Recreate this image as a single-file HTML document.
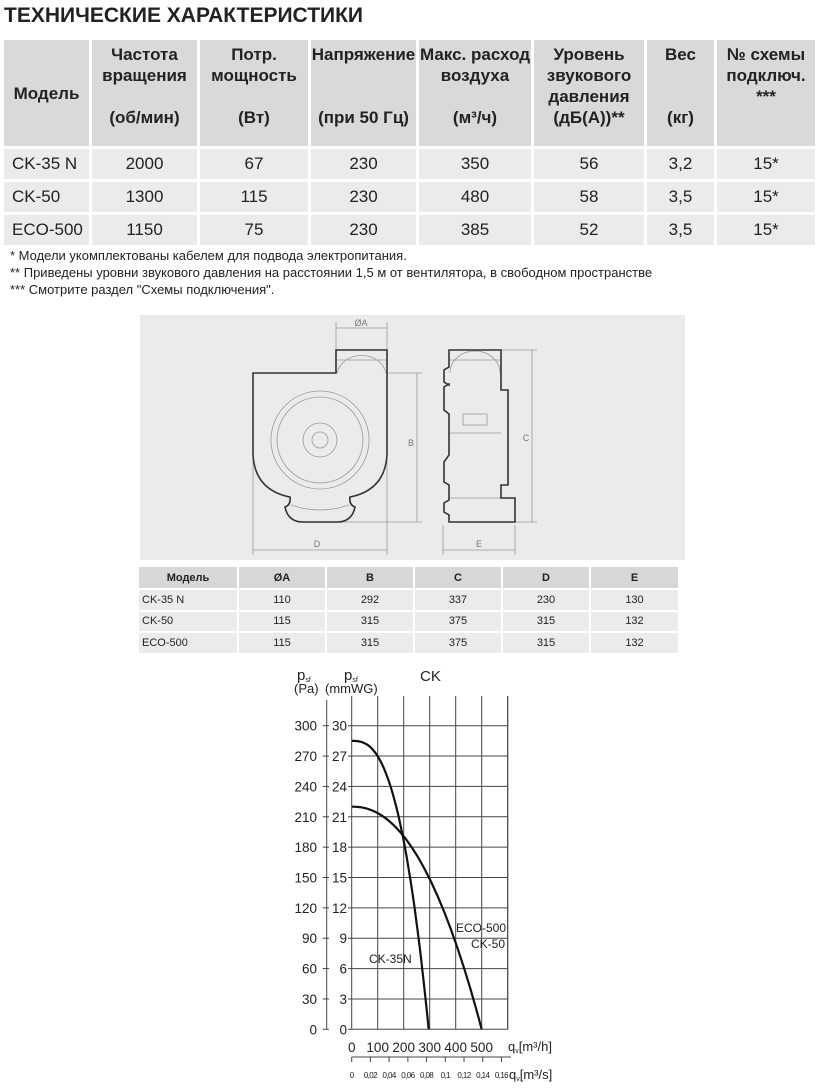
<!DOCTYPE html>
<html><head><meta charset="utf-8"><style>
body{margin:0;background:#fff;width:820px;height:1091px;position:relative;overflow:hidden;font-family:"Liberation Sans",sans-serif;color:#222}
.a{position:absolute}
table{border-collapse:separate;border-spacing:3px;position:absolute}
td{padding:0;text-align:center}
#t1{left:1px;top:37px;font-size:17px}
#t1 .h td{background:#d9d9d9;font-weight:bold;height:102px;vertical-align:top;line-height:21px}
#t1 .r td{background:#ebebeb;height:30px}
#t2{left:137px;top:565px;font-size:11px;border-spacing:2px}
#t2 .h td{background:#d7d7d7;font-weight:bold;height:21px}
#t2 .r td{background:#ebebeb;height:19.5px}
.note{font-size:13px;left:10px}
</style></head><body>
<div class="a" style="left:4px;top:4px;font-size:21px;font-weight:bold;color:#222">ТЕХНИЧЕСКИЕ ХАРАКТЕРИСТИКИ</div>
<table id="t1">
<tr class="h">
<td style="width:85px;vertical-align:middle">Модель</td>
<td style="width:105px;padding-top:4px">Частота<br>вращения<br><br>(об/мин)</td>
<td style="width:108px;padding-top:4px">Потр.<br>мощность<br><br>(Вт)</td>
<td style="width:105px;padding-top:4px">Напряжение<br><br><br>(при 50 Гц)</td>
<td style="width:112px;padding-top:4px">Макс. расход<br>воздуха<br><br>(м³/ч)</td>
<td style="width:110px;padding-top:4px">Уровень<br>звукового<br>давления<br>(дБ(А))**</td>
<td style="width:67px;padding-top:4px">Вес<br><br><br>(кг)</td>
<td style="width:98px;padding-top:4px">№ схемы<br>подключ.<br>***</td>
</tr>
<tr class="r"><td style="text-align:left;padding-left:8px">CK-35 N</td><td>2000</td><td>67</td><td>230</td><td>350</td><td>56</td><td>3,2</td><td>15*</td></tr>
<tr class="r"><td style="text-align:left;padding-left:8px">CK-50</td><td>1300</td><td>115</td><td>230</td><td>480</td><td>58</td><td>3,5</td><td>15*</td></tr>
<tr class="r"><td style="text-align:left;padding-left:8px">ECO-500</td><td>1150</td><td>75</td><td>230</td><td>385</td><td>52</td><td>3,5</td><td>15*</td></tr>
</table>
<div class="a note" style="top:248px">* Модели укомплектованы кабелем для подвода электропитания.</div>
<div class="a note" style="top:265px">** Приведены уровни звукового давления на расстоянии 1,5 м от вентилятора, в свободном пространстве</div>
<div class="a note" style="top:282px">*** Смотрите раздел "Схемы подключения".</div>

<div class="a" style="left:140px;top:315px;width:545px;height:245px;background:#ebebeb"></div>
<svg class="a" style="left:0;top:0" width="820" height="600">
<g fill="none" stroke="#999" stroke-width="0.8">
<line x1="336" y1="322" x2="336" y2="350"/><line x1="387" y1="322" x2="387" y2="555"/>
<line x1="336" y1="328" x2="387" y2="328"/>
<line x1="253" y1="455" x2="253" y2="555"/><line x1="253" y1="550" x2="387" y2="550"/>
<line x1="387" y1="373" x2="422" y2="373"/><line x1="340" y1="522" x2="422" y2="522"/>
<line x1="417" y1="373" x2="417" y2="522"/>
<line x1="501" y1="350" x2="537" y2="350"/><line x1="515" y1="522" x2="537" y2="522"/>
<line x1="532" y1="350" x2="532" y2="522"/>
<line x1="443" y1="525" x2="443" y2="555"/><line x1="515" y1="525" x2="515" y2="555"/>
<line x1="443" y1="550" x2="515" y2="550"/>
<circle cx="320" cy="440" r="49"/><circle cx="320" cy="440" r="43"/><circle cx="320" cy="440" r="17"/><circle cx="320" cy="440" r="8"/>
<path d="M337 373 A25 22 0 0 1 386 373"/><line x1="337" y1="360" x2="386" y2="360"/>
<path d="M450 373 A25 22 0 0 1 500 373"/><line x1="450" y1="360" x2="500" y2="360"/>
<line x1="450" y1="433" x2="501" y2="433"/><line x1="450" y1="498" x2="501" y2="498"/>
<rect x="463" y="414" width="24" height="11"/>
<path d="M291 505 Q320 515 349 505"/>
</g>
<g fill="none" stroke="#333" stroke-width="1.6">
<path d="M253 373 H336 V350 H387 V455 Q385 490 350 497 Q349 505 355 507 Q352 522 337 522 H303 Q288 522 285 507 Q291 505 290 497 Q255 490 253 455 Z"/>
<path d="M449 350 H501 V390 H508 V485 H501 V498 H515 V522 H449 V515 L444 512 V503 L449 500 V485 L444 482 V462 L449 455 V414 L444 410 V387 L449 384 V385 L444 382 V370 L449 367 Z"/>
</g>
<g font-family="Liberation Sans" font-size="9" fill="#777" text-anchor="middle">
<text x="361" y="326">ØA</text><text x="411" y="446">B</text><text x="526" y="441">C</text>
<text x="317" y="547">D</text><text x="479" y="547">E</text></g>
</svg>
<table id="t2">
<tr class="h"><td style="width:98px">Модель</td><td style="width:86px">ØA</td><td style="width:86px">B</td><td style="width:86px">C</td><td style="width:86px">D</td><td style="width:87px">E</td></tr>
<tr class="r"><td style="text-align:left;padding-left:3px">CK-35 N</td><td>110</td><td>292</td><td>337</td><td>230</td><td>130</td></tr>
<tr class="r"><td style="text-align:left;padding-left:3px">CK-50</td><td>115</td><td>315</td><td>375</td><td>315</td><td>132</td></tr>
<tr class="r"><td style="text-align:left;padding-left:3px">ECO-500</td><td>115</td><td>315</td><td>375</td><td>315</td><td>132</td></tr>
</table>

<svg id="ch" class="a" style="left:0;top:0" width="820" height="1091" font-family="Liberation Sans" fill="#222">
<text x="297" y="680" font-size="15">p<tspan font-size="7" dy="2">sf</tspan></text>
<text x="294" y="693" font-size="13">(Pa)</text>
<text x="344" y="680" font-size="15">p<tspan font-size="7" dy="2">sf</tspan></text>
<text x="325" y="693" font-size="13">(mmWG)</text>
<text x="420" y="681" font-size="15">CK</text>
<g id="grid" stroke="#444" stroke-width="1" fill="none"></g>
<g id="lab" font-size="13.5"></g>
<text x="508" y="1051" font-size="13">q<tspan font-size="7" dy="2">v</tspan><tspan dy="-2">[m³/h]</tspan></text>
<text x="509" y="1079" font-size="13">q<tspan font-size="7" dy="2">v</tspan><tspan dy="-2">[m³/s]</tspan></text>
<path id="c1" fill="none" stroke="#111" stroke-width="2.2"/>
<path id="c2" fill="none" stroke="#111" stroke-width="2.2"/>
<text x="456" y="932" font-size="12">ECO-500</text>
<text x="471" y="948" font-size="12">CK-50</text>
<text x="369" y="963" font-size="12">CK-35N</text>
</svg>
<script>
var ns="http://www.w3.org/2000/svg",g=document.getElementById('grid'),L=document.getElementById('lab');
function el(p,t,a,txt){var e=document.createElementNS(ns,t);for(var k in a)e.setAttribute(k,a[k]);if(txt!=null)e.textContent=txt;p.appendChild(e);}
var x0=351.7,xs=0.2600,y0=1029.3,ys=10.12;
for(var i=0;i<=6;i++){var x=x0+i*26;el(g,'line',{x1:x,y1:696,x2:x,y2:y0});}
el(g,'line',{x1:507.7,y1:696,x2:507.7,y2:y0});
for(var k=0;k<=10;k++){var y=y0-k*30.36;el(g,'line',{x1:x0,y1:y,x2:507.7,y2:y});
el(g,'line',{x1:322.7,y1:y,x2:329,y2:y});el(g,'line',{x1:348,y1:y,x2:x0,y2:y});
el(L,'text',{x:317,y:y+5,'text-anchor':'end'},String(k*30));
el(L,'text',{x:347,y:y+5,'text-anchor':'end'},String(k*3));}
el(g,'line',{x1:326.7,y1:700,x2:326.7,y2:y0});
for(var i=0;i<=5;i++)el(L,'text',{x:x0+i*26,y:1052,'text-anchor':'middle'},String(i*100));
el(g,'line',{x1:351.7,y1:1057,x2:511,y2:1057});
var sl=['0','0,02','0,04','0,06','0,08','0,1','0,12','0,14','0,16'];
for(var i=0;i<=8;i++){var x=x0+i*72*xs;el(g,'line',{x1:x,y1:1057,x2:x,y2:1062});
el(L,'text',{x:x,y:1078,'text-anchor':'middle','font-size':'8','letter-spacing':'-0.6'},sl[i]);}
function cur(id,p0,qm,n){var d='';for(var j=0;j<=60;j++){var q=qm*j/60,p=p0*(1-Math.pow(q/qm,n));d+=(j?'L':'M')+(x0+q*xs).toFixed(1)+' '+(y0-p*ys).toFixed(1);}document.getElementById(id).setAttribute('d',d);}
cur('c1',28.5,296,2.7);cur('c2',22,500,2.2);
</script>
</body></html>
